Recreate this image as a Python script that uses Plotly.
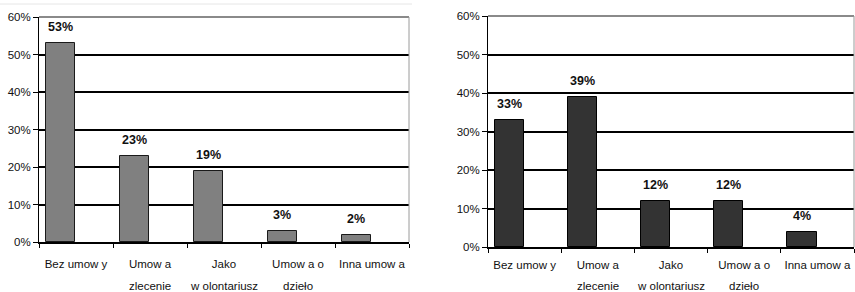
import plotly.graph_objects as go

categories = ["Bez umow y", "Umow a", "Jako", "Umow a o", "Inna umow a"]
categories_line2 = ["", "zlecenie", "w olontariusz", "dzieło", ""]
left_values = [53, 23, 19, 3, 2]
right_values = [33, 39, 12, 12, 4]
y_ticks = [0, 10, 20, 30, 40, 50, 60]
y_ticktext = [f"{v}%" for v in y_ticks]

FONT = "Liberation Sans, Arial, sans-serif"
W, H = 855, 292
BAR_OFFSET = -0.41
BAR_WIDTH = 0.40

fig = go.Figure()
fig.add_trace(go.Bar(x=categories, y=left_values, xaxis="x", yaxis="y",
                     marker=dict(color="#808080", line=dict(color="#1a1a1a", width=1)),
                     offset=BAR_OFFSET, width=BAR_WIDTH, showlegend=False, hoverinfo="skip"))
fig.add_trace(go.Bar(x=categories, y=right_values, xaxis="x2", yaxis="y2",
                     marker=dict(color="#333333", line=dict(color="#000000", width=1)),
                     offset=BAR_OFFSET, width=BAR_WIDTH, showlegend=False, hoverinfo="skip"))

panels = [
    dict(xd=[39 / W, 409 / W], yd=[1 - 242 / H, 1 - 17 / H], x="x", y="y",
         vals=left_values, standoff=10, l2shift=-44, catw=74),
    dict(xd=[488 / W, 854 / W], yd=[1 - 247 / H, 1 - 16 / H], x="x2", y="y2",
         vals=right_values, standoff=6, l2shift=-39, catw=73),
]

tickfont = dict(family=FONT, size=11.5, color="#111111")
annotations = []
shapes = []
for i, p in enumerate(panels):
    xk = "xaxis" if i == 0 else "xaxis2"
    yk = "yaxis" if i == 0 else "yaxis2"
    fig.layout[xk] = dict(domain=p["xd"], anchor=p["y"], type="category",
                          categoryorder="array", categoryarray=categories,
                          showline=True, linecolor="#000000", linewidth=1.5,
                          ticks="outside", ticklen=4, tickcolor="#000000",
                          tickson="boundaries", ticklabelstandoff=p["standoff"],
                          tickangle=0, tickfont=tickfont, showgrid=False,
                          automargin=False)
    fig.layout[yk] = dict(domain=p["yd"], anchor=p["x"], range=[0, 60],
                          tickvals=y_ticks, ticktext=y_ticktext,
                          showline=True, linecolor="#000000", linewidth=1,
                          ticks="outside", ticklen=5, tickcolor="#000000",
                          showgrid=True, gridcolor="#000000", gridwidth=1.5,
                          zeroline=False, tickfont=tickfont, automargin=False)
    # plot-area frame (top and right) in grey
    shapes.append(dict(type="line", xref=f"{p['x']} domain", yref=f"{p['y']} domain",
                       x0=0, x1=1, y0=1, y1=1, line=dict(color="#8a8a8a", width=2), layer="above"))
    shapes.append(dict(type="line", xref=f"{p['x']} domain", yref=f"{p['y']} domain",
                       x0=1, x1=1, y0=0, y1=1, line=dict(color="#9a9a9a", width=1), layer="above"))
    shift = (BAR_OFFSET + BAR_WIDTH / 2) * p["catw"]
    for c, v in zip(categories, p["vals"]):
        annotations.append(dict(x=c, y=v, xref=p["x"], yref=p["y"], text=f"<b>{v}%</b>",
                                showarrow=False, xshift=shift, yshift=16, yanchor="middle",
                                font=dict(family=FONT, size=12.5, color="#111111")))
    for c, t in zip(categories, categories_line2):
        if t:
            annotations.append(dict(x=c, y=0, xref=p["x"], yref=f"{p['y']} domain", text=t,
                                    showarrow=False, yshift=p["l2shift"], yanchor="middle",
                                    font=tickfont))

shapes.append(dict(type="line", xref="paper", yref="paper", x0=0, x1=412 / W,
                   y0=1 - 4 / H, y1=1 - 4 / H, line=dict(color="#e6e6e6", width=1)))

fig.update_layout(width=W, height=H, margin=dict(l=0, r=0, t=0, b=0),
                  paper_bgcolor="white", plot_bgcolor="white",
                  annotations=annotations, shapes=shapes, bargap=0)
fig.write_html("out.html", config={"displayModeBar": False},
               post_script="document.body.style.margin='0';document.body.style.overflow='hidden';")
